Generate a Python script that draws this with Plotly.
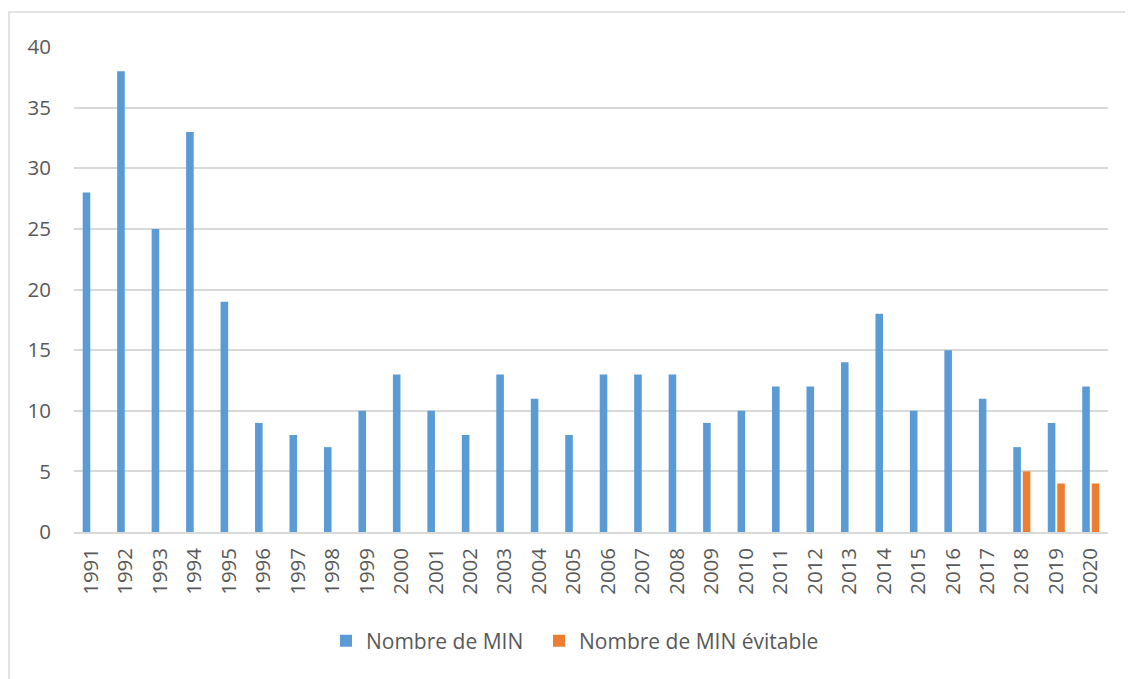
import plotly.graph_objects as go

years = [str(y) for y in range(1991, 2021)]
nombre_min = [28, 38, 25, 33, 19, 9, 8, 7, 10, 13, 10, 8, 13, 11, 8, 13, 13, 13, 9, 10,
              12, 12, 14, 18, 10, 15, 11, 7, 9, 12]
nombre_evitable = [None] * 27 + [5, 4, 4]

FONT = "Open Sans"
TXT = "#595959"
GRID = "#D9D9D9"

fig = go.Figure()
fig.add_trace(go.Bar(x=years, y=nombre_min, name="Nombre de MIN", legend="legend",
                     marker=dict(color="#5B9BD5", line=dict(width=0))))
fig.add_trace(go.Bar(x=years, y=nombre_evitable, name="Nombre de MIN évitable", legend="legend2",
                     marker=dict(color="#ED7D31", line=dict(width=0))))

leg_common = dict(orientation="h", yanchor="middle", y=-0.225, xanchor="left",
                  font=dict(family=FONT, size=21, color=TXT), itemwidth=30,
                  bgcolor="rgba(0,0,0,0)")

fig.update_layout(
    width=1133, height=679,
    margin=dict(l=66, r=33, t=39, b=155),
    paper_bgcolor="white", plot_bgcolor="white",
    barmode="group", bargap=0.45, bargroupgap=0.2,
    font=dict(family=FONT, size=20.5, color=TXT),
    showlegend=True,
    legend=dict(x=0.2437, **leg_common),
    legend2=dict(x=0.4497, **leg_common),
    xaxis=dict(type="category", tickangle=-90, showgrid=False, showline=True,
               linecolor=GRID, linewidth=1.5, ticks="", ticklabelstandoff=6,
               tickfont=dict(family=FONT, size=20.5, color=TXT), fixedrange=True),
    yaxis=dict(range=[0, 40], dtick=5, showgrid=True, gridcolor=GRID, gridwidth=1.5,
               zeroline=False, showline=False, ticks="", ticklabelstandoff=22,
               tickfont=dict(family=FONT, size=20.5, color=TXT), fixedrange=True),
    shapes=[dict(type="rect", xref="paper", yref="paper",
                 x0=-0.0629, x1=1.04, y0=-0.35, y1=1.072,
                 line=dict(color=GRID, width=1.5), fillcolor="rgba(0,0,0,0)", layer="below")],
)

fig.write_html("out.html")
